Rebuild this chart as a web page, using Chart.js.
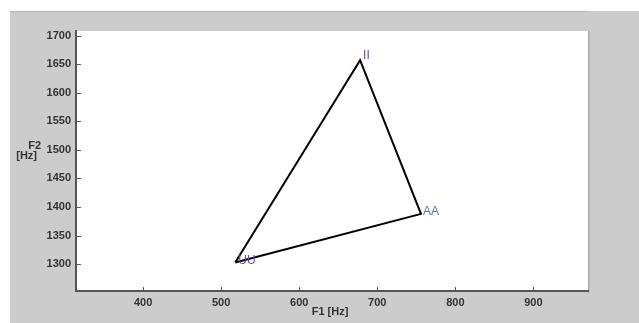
<!DOCTYPE html>
<html>
<head>
<meta charset="utf-8">
<script src="https://cdn.jsdelivr.net/npm/chart.js@4"></script>
<style>
  html, body { margin: 0; padding: 0; background: #fff; }
  canvas { display: block; }
</style>
</head>
<body>
<canvas id="vowelChart" width="639" height="323"></canvas>
<script>
// vowel triangle, closed back to the first vowel
const vowels = ['UU', 'II', 'AA', 'UU'];
const f1Values = [518, 678, 756, 518];
const f2Values = [1303, 1657, 1388, 1303];
const xTicks = [400, 500, 600, 700, 800, 900];
const yTicks = [1300, 1350, 1400, 1450, 1500, 1550, 1600, 1650, 1700];

const labelColors = { UU: '#5a4f98', II: '#6b4c9a', AA: '#4f78b8' };
const labelOffsets = { UU: [3, -2], II: [3, -4], AA: [2, -2] };

const points = f1Values.map((x, i) => ({ x: x, y: f2Values[i] }));

const matlabFrame = {
  id: 'matlabFrame',
  beforeDraw(chart) {
    const { ctx, chartArea: a } = chart;
    ctx.save();
    ctx.fillStyle = '#ffffff';
    ctx.fillRect(0, 0, chart.width, chart.height);
    ctx.fillStyle = '#cccccc';
    ctx.fillRect(10, 11, chart.width - 10, chart.height - 11);
    ctx.fillStyle = '#b4b4b4';
    ctx.fillRect(10, 11, a.right - 10, 1);
    ctx.fillStyle = '#ffffff';
    ctx.fillRect(a.left, a.top, a.right - a.left, a.bottom - a.top);
    // faint shadow on the right edge of the axes box
    ctx.fillStyle = '#a9a9a9';
    ctx.fillRect(a.right, a.top, 1.5, a.bottom - a.top + 2);
    ctx.restore();
  },
  afterDraw(chart) {
    const { ctx, chartArea: a, scales } = chart;
    ctx.save();
    // inward tick marks
    ctx.strokeStyle = '#555';
    ctx.lineWidth = 1;
    ctx.beginPath();
    xTicks.forEach(v => {
      const px = Math.round(scales.x.getPixelForValue(v)) + 0.5;
      ctx.moveTo(px, a.bottom);
      ctx.lineTo(px, a.bottom - 4);
    });
    yTicks.forEach(v => {
      const py = Math.round(scales.y.getPixelForValue(v)) + 0.5;
      ctx.moveTo(a.left, py);
      ctx.lineTo(a.left + 5, py);
    });
    ctx.stroke();

    // vowel labels
    ctx.font = '12px "Liberation Sans", Arial, sans-serif';
    ctx.textAlign = 'left';
    ctx.textBaseline = 'middle';
    vowels.slice(0, 3).forEach((v, i) => {
      const px = scales.x.getPixelForValue(f1Values[i]);
      const py = scales.y.getPixelForValue(f2Values[i]);
      const off = labelOffsets[v];
      ctx.fillStyle = labelColors[v];
      ctx.fillText(v, px + off[0], py + off[1]);
    });

    // axis titles
    ctx.fillStyle = '#333';
    ctx.font = 'bold 11px "Liberation Sans", Arial, sans-serif';
    ctx.textAlign = 'center';
    ctx.fillText('F1 [Hz]', (a.left + a.right) / 2 - 2, 312);
    ctx.textAlign = 'right';
    ctx.fillText('F2', 41, 146);
    ctx.fillText('[Hz]', 37, 156);
    ctx.restore();
  }
};

const tickFont = { family: '"Liberation Sans", Arial, sans-serif', size: 11, weight: 'bold' };

new Chart(document.getElementById('vowelChart'), {
  type: 'scatter',
  data: {
    datasets: [{
      label: 'Vowel triangle',
      data: points,
      showLine: true,
      borderColor: '#000',
      borderWidth: 2,
      pointRadius: 0,
      fill: false
    }]
  },
  options: {
    responsive: false,
    animation: false,
    devicePixelRatio: 1,
    layout: { padding: { top: 31, right: 51, left: 0, bottom: 0 } },
    plugins: {
      legend: { display: false },
      tooltip: { enabled: false }
    },
    scales: {
      x: {
        type: 'linear',
        min: 314,
        max: 970,
        afterBuildTicks: s => { s.ticks = xTicks.map(v => ({ value: v })); },
        afterFit: s => { s.height = 32; },
        grid: { display: true, drawOnChartArea: false, drawTicks: false },
        border: { display: true, color: '#555', width: 2 },
        ticks: { padding: 5, color: '#333', font: tickFont, maxRotation: 0, callback: v => String(v) }
      },
      y: {
        type: 'linear',
        min: 1253,
        max: 1708,
        afterBuildTicks: s => { s.ticks = yTicks.map(v => ({ value: v })); },
        afterFit: s => { s.width = 76; },
        grid: { display: true, drawOnChartArea: false, drawTicks: false },
        border: { display: true, color: '#555', width: 2 },
        ticks: { padding: 5, color: '#333', font: tickFont, callback: v => String(v) }
      }
    }
  },
  plugins: [matlabFrame]
});
</script>
</body>
</html>
